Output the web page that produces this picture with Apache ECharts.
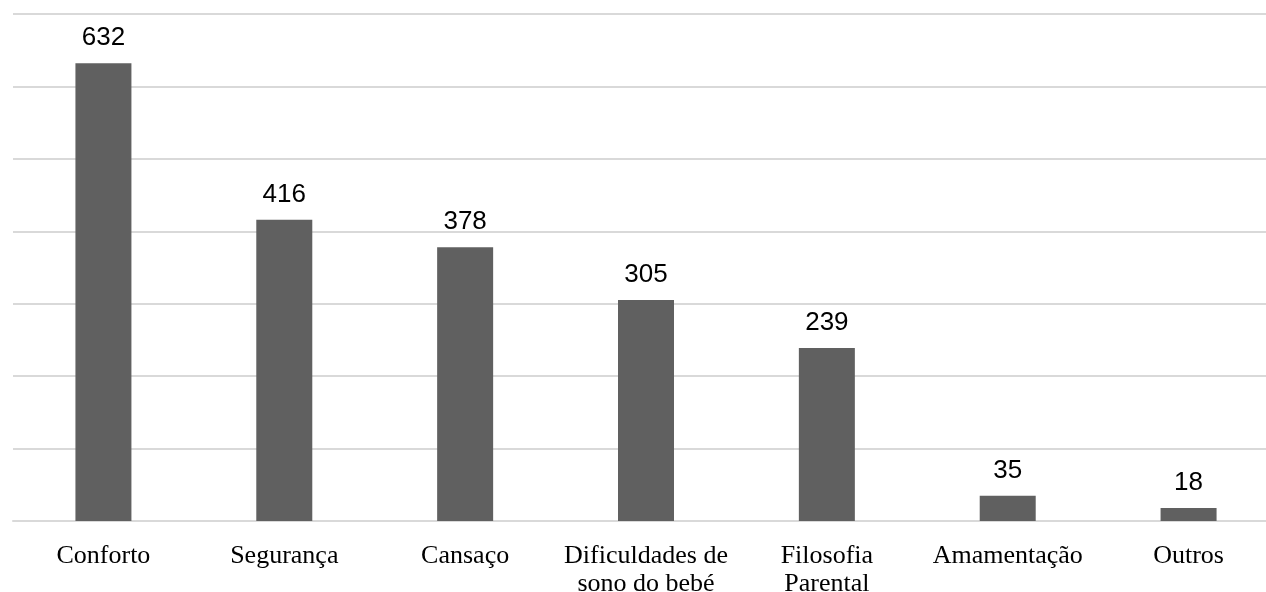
<!DOCTYPE html>
<html><head><meta charset="utf-8">
<script src="https://cdn.jsdelivr.net/npm/echarts@6/dist/echarts.min.js"></script>
<style>html,body{margin:0;padding:0;background:#fff}#c{width:1266px;height:592px}</style>
</head><body><div id="c"></div>
<script>
const categories = ["Conforto","Segurança","Cansaço","Dificuldades de\nsono do bebé","Filosofia\nParental","Amamentação","Outros"];
const values = [632,416,378,305,239,35,18];
const chart = echarts.init(document.getElementById('c'));
chart.setOption({
  animation:false,
  grid:{left:13,width:1266,top:14,bottom:71,containLabel:false,outerBoundsMode:'none'},
  xAxis:{type:'category',data:categories,
    axisLine:{lineStyle:{color:'#d9d9d9',width:2}},
    axisTick:{show:false},
    axisLabel:{interval:0,color:'#000',fontFamily:'Liberation Serif',fontSize:26,lineHeight:28,margin:21}
  },
  yAxis:{type:'value',min:0,max:700,interval:100,
    axisLabel:{show:false},axisLine:{show:false},axisTick:{show:false},
    splitLine:{lineStyle:{color:'#d9d9d9',width:2}}
  },
  series:[{type:'bar',data:values,barWidth:56,
    itemStyle:{color:'#606060'},
    label:{show:true,position:'top',distance:12,color:'#000',fontFamily:'Liberation Sans',fontSize:26}
  }]
});
</script></body></html>
